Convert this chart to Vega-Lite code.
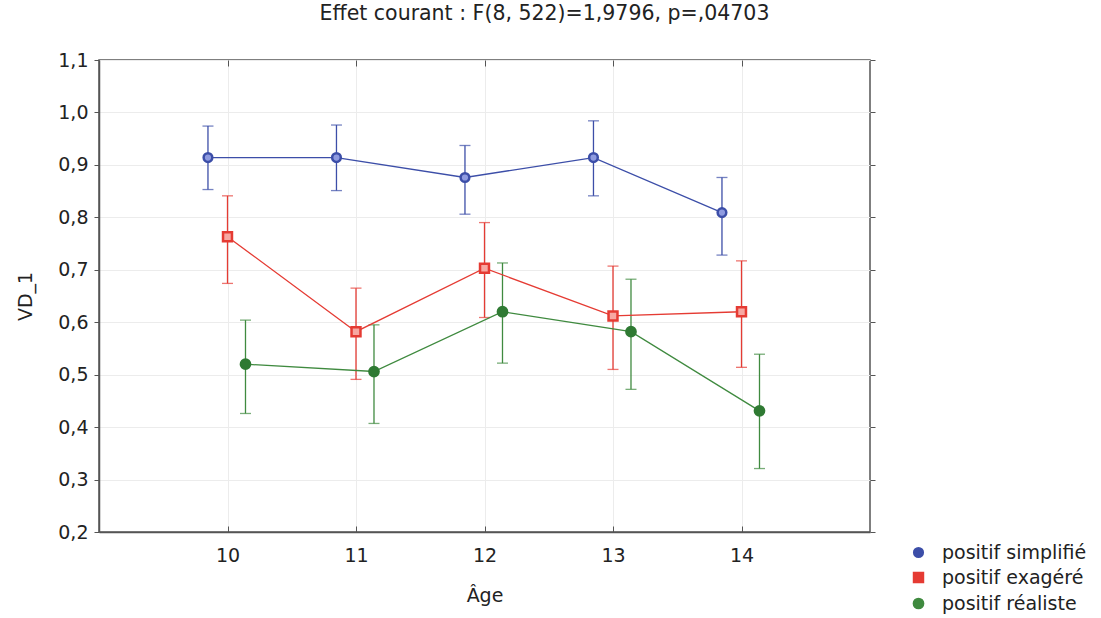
{
  "$schema": "https://vega.github.io/schema/vega-lite/v6.json",
  "width": 771,
  "height": 472,
  "autosize": "none",
  "padding": {"left": 99, "top": 60, "right": 231, "bottom": 86},
  "background": "white",
  "config": {
    "font": "DejaVu Sans",
    "view": {"stroke": "#555555", "strokeWidth": 1.5},
    "axis": {"labelFont": "DejaVu Sans", "titleFont": "DejaVu Sans", "labelColor": "#222222", "titleColor": "#222222", "labelFontSize": 19, "titleFontSize": 19, "titleFontWeight": "normal", "gridColor": "#ececec", "gridWidth": 1, "domainColor": "#555555", "domainWidth": 1.5, "tickColor": "#555555"},
    "legend": {"labelFont": "DejaVu Sans", "labelFontSize": 19, "labelColor": "#222222", "symbolOpacity": 1}
  },
  "title": {"text": "Effet courant : F(8, 522)=1,9796, p=,04703", "font": "DejaVu Sans", "fontSize": 20.5, "fontWeight": "normal", "color": "#222222", "anchor": "middle", "frame": "group", "dx": 60, "offset": 27},
  "data": {"values": [
    {"age": 10, "serie": "positif simplifié", "m": 0.914, "lo": 0.853, "hi": 0.974},
    {"age": 11, "serie": "positif simplifié", "m": 0.914, "lo": 0.851, "hi": 0.976},
    {"age": 12, "serie": "positif simplifié", "m": 0.876, "lo": 0.806, "hi": 0.937},
    {"age": 13, "serie": "positif simplifié", "m": 0.914, "lo": 0.841, "hi": 0.984},
    {"age": 14, "serie": "positif simplifié", "m": 0.809, "lo": 0.728, "hi": 0.876},
    {"age": 10, "serie": "positif exagéré", "m": 0.763, "lo": 0.674, "hi": 0.841},
    {"age": 11, "serie": "positif exagéré", "m": 0.582, "lo": 0.491, "hi": 0.665},
    {"age": 12, "serie": "positif exagéré", "m": 0.703, "lo": 0.609, "hi": 0.790},
    {"age": 13, "serie": "positif exagéré", "m": 0.612, "lo": 0.510, "hi": 0.707},
    {"age": 14, "serie": "positif exagéré", "m": 0.620, "lo": 0.514, "hi": 0.717},
    {"age": 10, "serie": "positif réaliste", "m": 0.520, "lo": 0.426, "hi": 0.604},
    {"age": 11, "serie": "positif réaliste", "m": 0.506, "lo": 0.407, "hi": 0.595},
    {"age": 12, "serie": "positif réaliste", "m": 0.620, "lo": 0.522, "hi": 0.713},
    {"age": 13, "serie": "positif réaliste", "m": 0.582, "lo": 0.472, "hi": 0.682},
    {"age": 14, "serie": "positif réaliste", "m": 0.431, "lo": 0.321, "hi": 0.539}
  ]},
  "transform": [
    {"calculate": "datum.age + (datum.serie === 'positif simplifié' ? -0.152 : (datum.serie === 'positif réaliste' ? 0.14 : 0))", "as": "xpos"}
  ],
  "resolve": {"axis": {"x": "independent", "y": "independent"}},
  "encoding": {
    "color": {"field": "serie", "type": "nominal",
      "scale": {"domain": ["positif simplifié", "positif exagéré", "positif réaliste"], "range": ["#3c4ea8", "#e53b33", "#3f8a3f"]},
      "legend": {"title": null, "orient": "none", "legendX": 810, "legendY": 483, "symbolSize": 110, "symbolStrokeWidth": 2.5, "labelOffset": 14, "rowPadding": 5, "padding": 0}}
  },
  "layer": [
    {"mark": {"type": "rule", "strokeWidth": 1.3},
     "encoding": {
       "x": {"field": "xpos", "type": "quantitative", "scale": {"domain": [9, 15], "nice": false, "zero": false},
         "axis": {"title": "Âge", "values": [10, 11, 12, 13, 14], "format": "d", "tickSize": -6, "labelPadding": 20, "titlePadding": 21, "grid": true, "domain": true}},
       "y": {"field": "lo", "type": "quantitative", "scale": {"domain": [0.2, 1.1], "nice": false, "zero": false},
         "axis": {"title": "VD_1", "values": [0.2, 0.3, 0.4, 0.5, 0.6, 0.7, 0.8, 0.9, 1.0, 1.1], "labelExpr": "replace(format(datum.value, '.1f'), '.', ',')", "tickSize": 5, "labelPadding": 6, "titlePadding": 22, "grid": true}},
       "y2": {"field": "hi"}}},
    {"mark": {"type": "tick", "orient": "horizontal", "size": 11, "thickness": 1.3},
     "encoding": {"x": {"field": "xpos", "type": "quantitative", "axis": null}, "y": {"field": "lo", "type": "quantitative", "axis": null}}},
    {"mark": {"type": "tick", "orient": "horizontal", "size": 11, "thickness": 1.3},
     "encoding": {"x": {"field": "xpos", "type": "quantitative", "axis": null}, "y": {"field": "hi", "type": "quantitative", "axis": null}}},
    {"mark": {"type": "line", "strokeWidth": 1.3},
     "encoding": {
       "x": {"field": "xpos", "type": "quantitative", "axis": {"orient": "top", "values": [10, 11, 12, 13, 14], "labels": false, "title": null, "tickSize": -6, "grid": false, "domain": false}},
       "y": {"field": "m", "type": "quantitative", "axis": {"orient": "right", "values": [0.2, 0.3, 0.4, 0.5, 0.6, 0.7, 0.8, 0.9, 1.0, 1.1], "labels": false, "title": null, "tickSize": 5, "grid": false, "domain": false}},
       "detail": {"field": "serie"}}},
    {"mark": {"type": "point", "filled": true, "strokeWidth": 2.5, "opacity": 1},
     "encoding": {
       "x": {"field": "xpos", "type": "quantitative", "axis": null},
       "y": {"field": "m", "type": "quantitative", "axis": null},
       "stroke": {"field": "serie", "type": "nominal", "scale": {"domain": ["positif simplifié", "positif exagéré", "positif réaliste"], "range": ["#3c4ea8", "#e53b33", "#2f7a33"]}, "legend": null},
       "fill": {"field": "serie", "type": "nominal", "scale": {"domain": ["positif simplifié", "positif exagéré", "positif réaliste"], "range": ["#8f9be0", "#f7a8a2", "#2f7a33"]}, "legend": null},
       "shape": {"field": "serie", "type": "nominal",
         "scale": {"domain": ["positif simplifié", "positif exagéré", "positif réaliste"], "range": ["circle", "square", "circle"]},
         "legend": {"title": null, "orient": "none", "legendX": 810, "legendY": 483, "symbolSize": 110, "symbolStrokeWidth": 2.5, "labelOffset": 14, "rowPadding": 5, "padding": 0}},
       "size": {"field": "serie", "type": "nominal", "scale": {"domain": ["positif simplifié", "positif exagéré", "positif réaliste"], "range": [75, 85, 35]}, "legend": null}
     }}
  ]
}
